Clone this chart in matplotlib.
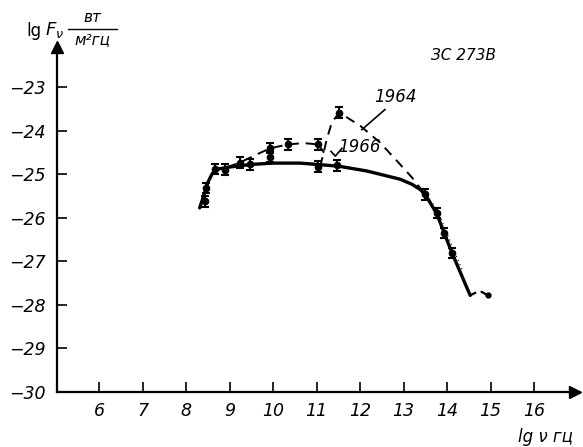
import matplotlib
matplotlib.use("Agg")
import matplotlib.pyplot as plt
from matplotlib.lines import Line2D

# ---------------- data ----------------
x_ticks = [6, 7, 8, 9, 10, 11, 12, 13, 14, 15, 16]
y_ticks = [-23, -24, -25, -26, -27, -28, -29, -30]

# 1966 measurements (solid curve points with error bars)
pts66_x = [8.44, 8.45, 8.67, 8.90, 9.46, 9.93, 11.04, 11.46, 13.49, 13.76, 13.92, 14.11]
pts66_y = [-25.62, -25.31, -24.87, -24.89, -24.77, -24.59, -24.82, -24.79, -25.46, -25.88, -26.34, -26.80]
# 1964 measurements (dashed curve points)
pts64_x = [9.23, 9.93, 10.34, 11.04, 11.52]
pts64_y = [-24.73, -24.39, -24.31, -24.31, -23.58]
err = 0.12

# solid (1966) curve
line66_x = [8.31, 8.40, 8.50, 8.60, 8.70, 9.00, 9.50, 10.00, 10.62, 11.00, 11.50, 12.15, 12.92, 13.20, 13.40, 13.55, 13.76, 14.11, 14.53]
line66_y = [-25.77, -25.50, -25.18, -24.98, -24.88, -24.83, -24.77, -24.74, -24.74, -24.77, -24.81, -24.92, -25.11, -25.23, -25.36, -25.55, -25.90, -26.80, -27.78]
# dashed (1964) curve
line64a_x = [8.95, 9.23, 9.60, 9.93, 10.34, 10.70, 11.04, 11.17]
line64a_y = [-24.83, -24.73, -24.55, -24.40, -24.31, -24.28, -24.31, -24.50]
line64b_x = [11.08, 11.15, 11.23, 11.35, 11.52, 12.00, 12.46, 12.92, 13.20, 13.49]
line64b_y = [-24.82, -24.55, -24.20, -23.80, -23.58, -23.88, -24.27, -24.77, -25.08, -25.46]
# tail beyond the steep drop
tail_x = [14.53, 14.65, 14.80, 14.93]
tail_y = [-27.78, -27.72, -27.70, -27.78]
dots_x = [13.55, 13.80, 13.97, 14.16, 14.35]
dots_y = [-25.50, -25.85, -26.30, -26.75, -27.20]

# ---------------- figure ----------------
W, H = 583, 447
fig = plt.figure(figsize=(W / 100, H / 100), dpi=100)
ax = fig.add_axes([57 / W, 55 / H, 518 / W, 345.5 / H])
ax.set_xlim(5.03, 16.94)
ax.set_ylim(-30, -22.06)

FONT = ['DejaVu Sans']
tfont = dict(family=FONT, style='italic', size=12.5)

for s in ['top', 'right']:
    ax.spines[s].set_visible(False)
for s in ['left', 'bottom']:
    ax.spines[s].set_linewidth(1.6)

ax.set_xticks(x_ticks)
ax.set_yticks(y_ticks)
ax.set_xticklabels([str(v) for v in x_ticks], fontdict=tfont)
ax.set_yticklabels(["\u2212" + str(-v) for v in y_ticks], fontdict=tfont)
ax.tick_params(axis='both', direction='in', length=7, width=1.2)
ax.tick_params(axis='x', pad=7)
ax.tick_params(axis='y', pad=8)

# axis arrows
ax.plot([1], [0], marker='>', color='black', markersize=8, transform=ax.transAxes, clip_on=False)
ax.plot([0], [1], marker='^', color='black', markersize=8, transform=ax.transAxes, clip_on=False)

# curves
ax.plot(line66_x, line66_y, color='black', lw=2.4, solid_capstyle='round')
ax.plot(line64a_x, line64a_y, color='black', lw=1.4, dashes=(5, 3.5))
ax.plot(line64b_x, line64b_y, color='black', lw=1.4, dashes=(5, 3.5))
ax.plot(tail_x, tail_y, color='black', lw=1.6, dashes=(3, 2))
ax.plot(dots_x, dots_y, color='black', lw=0.8, dashes=(1, 3))

# points with error bars
ax.errorbar(pts66_x, pts66_y, yerr=err, fmt='o', color='black', ms=4.5,
            capsize=3, elinewidth=1.5, capthick=1.5)
ax.errorbar(pts64_x, pts64_y, yerr=err, fmt='o', color='black', ms=4.5,
            capsize=3, elinewidth=1.5, capthick=1.5)
ax.plot([14.93], [-27.78], 'o', color='black', ms=3.5)

# annotations
ax.text(14.37, -22.26, "ЗС 273В", ha='center', va='center', family=FONT, style='italic', size=11)
ax.text(12.80, -23.23, "1964", ha='center', va='center', family=FONT, style='italic', size=12)
ax.plot([12.57, 12.04], [-23.51, -23.97], color='black', lw=1.2)
ax.text(11.98, -24.38, "1966", ha='center', va='center', family=FONT, style='italic', size=12)
ax.plot([11.58, 11.43, 11.33], [-24.40, -24.58, -24.47], color='black', lw=1.2)

# axis titles (pixel positions converted to figure fraction)
def fx(px):
    return px / W

def fy(py):
    return 1 - py / H

fig.text(fx(26), fy(31), "lg", ha='left', va='center', family=FONT, size=12)
fig.text(fx(45), fy(30), r"$F_\nu$", ha='left', va='center', size=13)
fig.text(fx(92), fy(18), "вт", ha='center', va='center', family=FONT, style='italic', size=11)
fig.add_artist(Line2D([fx(68), fx(117)], [fy(29), fy(29)], color='black', lw=1.0, transform=fig.transFigure))
fig.text(fx(92), fy(40), "м²гц", ha='center', va='center', family=FONT, style='italic', size=11)

fig.text(fx(545), fy(437), "lg ν гц", ha='center', va='center', family=FONT, style='italic', size=12)

fig.savefig("out.png", dpi=100)
